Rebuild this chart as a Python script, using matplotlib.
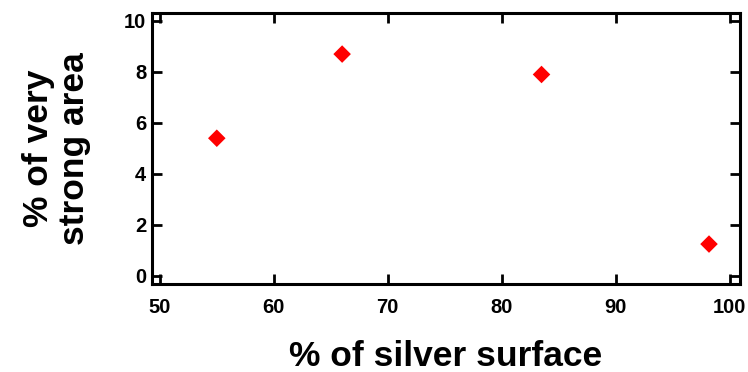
import matplotlib.pyplot as plt

plt.rcParams["font.family"] = ["Liberation Sans", "DejaVu Sans"]
plt.rcParams["font.weight"] = "bold"

silver_surface = [55.0, 66.0, 83.5, 98.2]
strong_area = [5.4, 8.7, 7.9, 1.25]
x_ticks = [50, 60, 70, 80, 90, 100]
y_ticks = [0, 2, 4, 6, 8, 10]

fig = plt.figure(figsize=(7.48, 3.72), dpi=100)
ax = fig.add_axes([0.203, 0.237, 0.786, 0.728])

ax.scatter(silver_surface, strong_area, marker="D", s=80, color="#ff0000",
           edgecolors="none", zorder=3)

ax.set_xlim(49.3, 100.9)
ax.set_ylim(-0.31, 10.31)
ax.set_xticks(x_ticks)
ax.set_yticks(y_ticks)
ax.tick_params(direction="in", length=7, width=2, labelsize=14.5,
               top=True, right=True)
ax.tick_params(axis="x", pad=10)
ax.tick_params(axis="y", pad=4)
for s in ax.spines.values():
    s.set_linewidth(2.2)

ax.set_xlabel("% of silver surface", fontsize=25.5, fontweight="bold", labelpad=17)
ax.set_ylabel("% of very\nstrong area", fontsize=25.5, fontweight="bold",
              labelpad=24, linespacing=1.12)

fig.savefig("out.png", dpi=100)
